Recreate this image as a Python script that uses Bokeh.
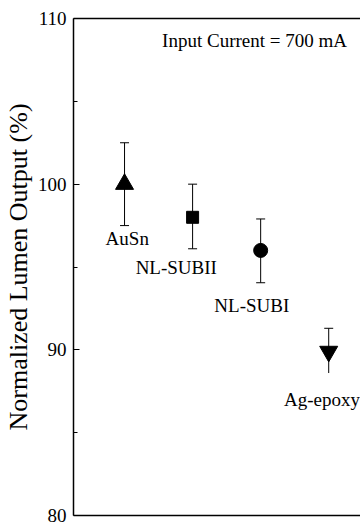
from bokeh.plotting import figure
from bokeh.models import (ColumnDataSource, Whisker, TeeHead, Label, LinearAxis,
                          FixedTicker, Range1d)
from bokeh.embed import file_html
from bokeh.resources import INLINE

# ---- data ----
materials = ["AuSn", "NL-SUBII", "NL-SUBI", "Ag-epoxy"]
xpos = [1, 2, 3, 4]
lumen = [100.0, 98.0, 96.0, 89.9]
err_upper = [102.5, 100.0, 97.9, 91.3]
err_lower = [97.5, 96.1, 94.05, 88.6]
lower_cap = [True, True, True, False]
markers = ["triangle", "square", "circle", "inverted_triangle"]
label_x = [1.04, 1.76, 2.87, 3.9]
label_y = [96.7, 95.0, 92.65, 87.0]
y_ticks = [80, 90, 100, 110]
y_minor = [85, 95, 105]
note = "Input Current = 700 mA"

FONT = "Liberation Serif"

p = figure(width=360, height=529, x_range=Range1d(0.25, 4.467), y_range=Range1d(80, 110),
           output_backend="svg", toolbar_location=None,
           min_border_left=72, min_border_top=18, min_border_right=0, min_border_bottom=14)
p.outline_line_color = None
p.grid.visible = False
p.background_fill_color = "white"
p.border_fill_color = "white"

# y axis
ya = p.yaxis[0]
ya.ticker = FixedTicker(ticks=y_ticks, minor_ticks=y_minor)
ya.major_tick_in = 6
ya.major_tick_out = 0
ya.minor_tick_in = 4
ya.minor_tick_out = 0
ya.axis_line_width = 1.5
ya.major_tick_line_width = 1.2
ya.minor_tick_line_width = 1.2
ya.axis_line_color = "black"
ya.major_label_text_font = FONT
ya.major_label_text_font_size = "19px"
ya.major_label_text_color = "black"
ya.major_label_standoff = 7
ya.axis_label = "Normalized Lumen Output (%)"
ya.axis_label_text_font = FONT
ya.axis_label_text_font_size = "26px"
ya.axis_label_text_font_style = "normal"
ya.axis_label_text_color = "black"
ya.axis_label_standoff = 2

# x axis (bottom line only)
xa = p.xaxis[0]
xa.ticker = FixedTicker(ticks=[])
xa.axis_line_width = 1.5
xa.axis_line_color = "black"
xa.major_label_text_font_size = "0px"
xa.major_tick_line_color = None
xa.minor_tick_line_color = None

# top border
top = LinearAxis(ticker=FixedTicker(ticks=[]), axis_line_width=1.5, axis_line_color="black",
                 major_label_text_font_size="0px", major_tick_line_color=None,
                 minor_tick_line_color=None)
p.add_layout(top, "above")

for i in range(len(xpos)):
    s = ColumnDataSource(dict(x=[xpos[i]], up=[err_upper[i]], lo=[err_lower[i]]))
    w = Whisker(source=s, base="x", upper="up", lower="lo", dimension="height",
                line_color="black", line_width=1,
                upper_head=TeeHead(size=9, line_color="black", line_width=1),
                lower_head=(TeeHead(size=9, line_color="black", line_width=1)
                            if lower_cap[i] else None))
    p.add_layout(w)

sizes = {"triangle": 18, "square": 12, "circle": 14, "inverted_triangle": 18}
for i, mk in enumerate(markers):
    p.scatter([xpos[i]], [lumen[i]], marker=mk, size=sizes[mk],
              fill_color="black", line_color="black")

for i, name in enumerate(materials):
    p.add_layout(Label(x=label_x[i], y=label_y[i], text=name, text_align="center",
                       text_baseline="middle", text_font=FONT, text_font_size="19px",
                       text_color="black"))

p.add_layout(Label(x=2.91, y=108.7, text=note, text_align="center", text_baseline="middle",
                   text_font=FONT, text_font_size="19px", text_color="black"))

open("out.html", "w").write(file_html(p, INLINE))
